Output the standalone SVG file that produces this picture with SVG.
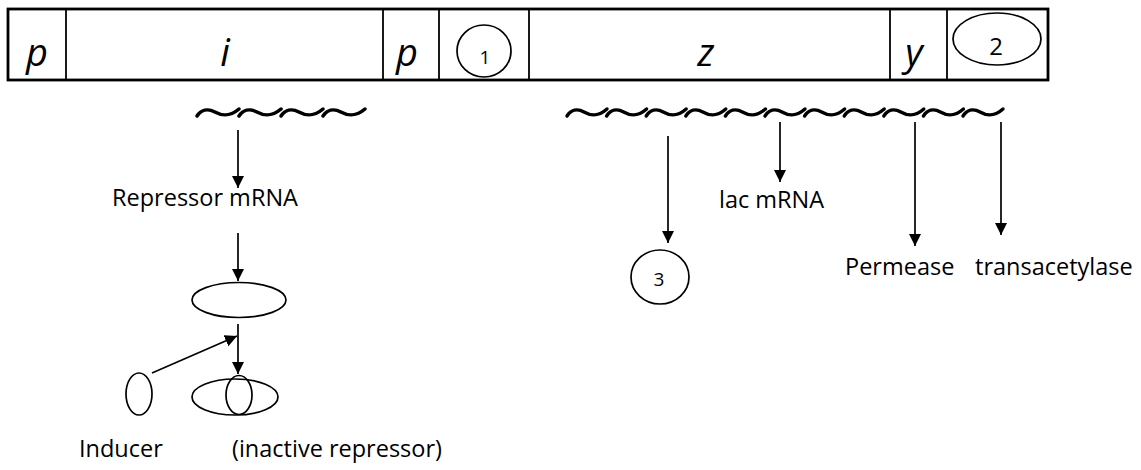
<svg xmlns="http://www.w3.org/2000/svg" width="1141" height="470" viewBox="0 0 1141 470">
<style>
.ln{stroke:#000;stroke-width:1.7;fill:none}
.box{stroke:#000;stroke-width:2.8;fill:#fff}
.div{stroke:#000;stroke-width:1.8}
.gene{font-family:"Open Sans",sans-serif;font-style:italic;font-size:38px;fill:#000;text-anchor:middle}
.lbl{font-family:"Open Sans",sans-serif;font-size:23.5px;fill:#000}
.num{font-family:"Open Sans",sans-serif;fill:#000;text-anchor:middle}
.wave{stroke:#000;stroke-width:3.4;fill:none;stroke-linejoin:round;stroke-linecap:round}
</style>
<defs>
<marker id="ah" viewBox="0 0 12 12" refX="12" refY="6" markerWidth="12" markerHeight="12" markerUnits="userSpaceOnUse" orient="auto">
<path d="M0,0 L12,6 L0,12 Z" fill="#000"/>
</marker>
<path id="tilde" d="M0,3 C4,-3 10,-5 17,-1 C24,3 31,4 40,-4"/>
</defs>
<g id="gene-bar">
<rect class="box" x="8" y="9" width="1040" height="71"/>
<line class="div" x1="66" y1="9" x2="66" y2="80"/>
<line class="div" x1="383" y1="9" x2="383" y2="80"/>
<line class="div" x1="439" y1="9" x2="439" y2="80"/>
<line class="div" x1="529" y1="9" x2="529" y2="80"/>
<line class="div" x1="890" y1="9" x2="890" y2="80"/>
<line class="div" x1="947" y1="9" x2="947" y2="80"/>
<text class="gene" x="37" y="66">p</text>
<text class="gene" x="225" y="66">i</text>
<text class="gene" x="407" y="66">p</text>
<text class="gene" x="706" y="66">z</text>
<text class="gene" x="914" y="66">y</text>
</g>
<g id="node-1">
<ellipse class="ln" cx="484" cy="51" rx="27" ry="26"/>
<text class="num" x="485" y="64" font-size="19">1</text>
</g>
<g id="node-2">
<ellipse class="ln" cx="997" cy="39" rx="44" ry="26"/>
<text class="num" x="996" y="55" font-size="24">2</text>
</g>
<g id="repressor-wave">
<use href="#tilde" class="wave" transform="translate(197,113) scale(1.05,1)"/>
<use href="#tilde" class="wave" transform="translate(239,113) scale(1.05,1)"/>
<use href="#tilde" class="wave" transform="translate(281,113) scale(1.05,1)"/>
<use href="#tilde" class="wave" transform="translate(323,113) scale(1.05,1)"/>
</g>
<g id="lac-wave">
<use href="#tilde" class="wave" transform="translate(567,113)"/>
<use href="#tilde" class="wave" transform="translate(606.6,113)"/>
<use href="#tilde" class="wave" transform="translate(646.2,113)"/>
<use href="#tilde" class="wave" transform="translate(685.8,113)"/>
<use href="#tilde" class="wave" transform="translate(725.4,113)"/>
<use href="#tilde" class="wave" transform="translate(765,113)"/>
<use href="#tilde" class="wave" transform="translate(804.6,113)"/>
<use href="#tilde" class="wave" transform="translate(844.2,113)"/>
<use href="#tilde" class="wave" transform="translate(883.8,113)"/>
<use href="#tilde" class="wave" transform="translate(923.4,113)"/>
<use href="#tilde" class="wave" transform="translate(963,113)"/>
</g>
<g id="repressor-mrna"><text class="lbl" x="112" y="206">Repressor mRNA</text></g>
<g id="repressor"><ellipse class="ln" cx="239" cy="300" rx="47" ry="17.5"/></g>
<g id="inducer"><ellipse class="ln" cx="139" cy="394" rx="13" ry="21"/>
<text class="lbl" x="79" y="457">Inducer</text></g>
<g id="inactive-repressor">
<ellipse class="ln" cx="235" cy="397" rx="43" ry="18"/>
<ellipse class="ln" cx="239" cy="395" rx="13" ry="19.5"/>
<text class="lbl" x="232" y="457">(inactive repressor)</text>
</g>
<g id="lac-mrna"><text class="lbl" x="719" y="208">lac mRNA</text></g>
<g id="node-3"><ellipse class="ln" cx="660" cy="277" rx="29" ry="27"/><text class="num" x="659" y="286" font-size="19">3</text></g>
<g id="permease"><text class="lbl" x="845" y="275">Permease</text></g>
<g id="transacetylase"><text class="lbl" x="975" y="275">transacetylase</text></g>
<g id="connectors">
<line class="ln" x1="238" y1="130" x2="238" y2="188" marker-end="url(#ah)"/>
<line class="ln" x1="238" y1="233" x2="238" y2="281" marker-end="url(#ah)"/>
<line class="ln" x1="238" y1="324" x2="238" y2="374" marker-end="url(#ah)"/>
<line class="ln" x1="152" y1="373" x2="237" y2="336" marker-end="url(#ah)"/>
<line class="ln" x1="668" y1="136" x2="668" y2="243" marker-end="url(#ah)"/>
<line class="ln" x1="780" y1="122" x2="780" y2="182" marker-end="url(#ah)"/>
<line class="ln" x1="915" y1="122" x2="915" y2="246" marker-end="url(#ah)"/>
<line class="ln" x1="1001" y1="122" x2="1001" y2="235" marker-end="url(#ah)"/>
</g>
</svg>
